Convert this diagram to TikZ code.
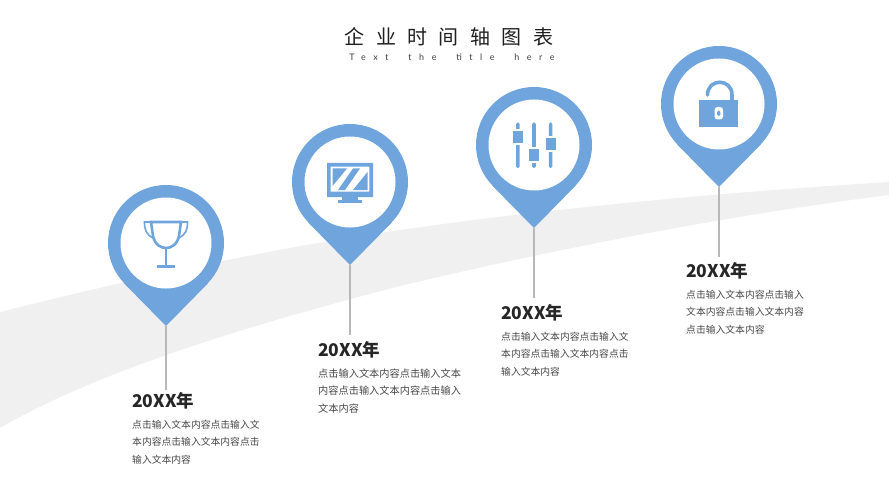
\documentclass[tikz,border=0pt]{standalone}
\usepackage{fontspec}
\setmainfont{Noto Sans CJK SC}
\newfontfamily\titlefont[LetterSpace=57]{Noto Sans CJK SC}
\newfontfamily\subfont[LetterSpace=84,WordSpace=2]{Lato}
\usepackage{tikz}
\usetikzlibrary{positioning}
\definecolor{pinblue}{HTML}{6FA5DC}
\definecolor{swoosh}{HTML}{F0F0F0}

\begin{document}
\begin{tikzpicture} [x=1pt, y=-1pt,
    pinhead/.style={circle, fill=pinblue, inner sep=0pt, minimum size=116pt},
    pinface/.style={circle, fill=white, inner sep=0pt, minimum size=91pt},
    pintip/.style={fill=pinblue},
    stem/.style={draw=black!28, line width=1.8pt},
    yearlabel/.style={inner sep=0pt, text=black!85, font=\fontsize{17.5}{20}\selectfont\bfseries},
    bodytext/.style={inner sep=0pt, align=left, text=black!72, font=\fontsize{9.8}{17.6}\selectfont},
    iconline/.style={draw=pinblue, line width=2.6pt},
    iconfill/.style={fill=pinblue}]

    \useasboundingbox (0,0) rectangle (889,500);

    % band behind the pins
    \fill [swoosh] (0,312) .. controls (120,282) and (260,250) .. (400,230)
      .. controls (560,207) and (730,192) .. (889,182)
      -- (889,195) .. controls (730,215) and (560,248) .. (400,286)
      .. controls (250,325) and (100,370) .. (0,428) -- cycle;

    % title
    \node (title) [inner sep=0pt, text=black!88, font=\titlefont\fontsize{20}{22}\selectfont] at (449,37) {企业时间轴图表};
    \node (subtitle) [inner sep=0pt, text=black!75, font=\subfont\fontsize{9}{10}\selectfont] at (452,57) {Text the title here};

    % first pin
    \node (pinA) [pinhead] at (166,243) {};
    \coordinate (tipA) at (166,326);
    \fill [pintip] (pinA.-44) -- (tipA) -- (pinA.-136) -- cycle;
    \node (faceA) [pinface] at (pinA) {};
    \coordinate (stemA) at (166,390);
    \draw [stem] (tipA) -- (stemA);
    \begin{scope}[shift={(faceA)}]
      \draw [iconline] (-15,-21) -- (15,-21) -- (13,-7) .. controls (11,2) and (5,5) .. (0,5)
        .. controls (-5,5) and (-11,2) .. (-13,-7) -- cycle;
      \draw [iconline, line width=1.6pt] (-15,-21) -- (-21.5,-21) .. controls (-21.5,-13) and (-20,-9) .. (-13,-5);
      \draw [iconline, line width=1.6pt] (15,-21) -- (21.5,-21) .. controls (21.5,-13) and (20,-9) .. (13,-5);
      \draw [iconline] (0,5) -- (0,23);
      \draw [iconline] (-9,23.5) -- (9,23.5);
    \end{scope}
    \node (yearA) [yearlabel, anchor=west] at (132,401) {20XX年};
    \node (textA) [bodytext, below right=10pt and 0pt of yearA.south west] {
      点击输入文本内容点击输入文 \\
      本内容点击输入文本内容点击 \\
      输入文本内容
    };

    % second pin
    \node (pinB) [pinhead] at (350,182) {};
    \coordinate (tipB) at (350,265);
    \fill [pintip] (pinB.-44) -- (tipB) -- (pinB.-136) -- cycle;
    \node (faceB) [pinface] at (pinB) {};
    \coordinate (stemB) at (350,335);
    \draw [stem] (tipB) -- (stemB);
    \begin{scope}[shift={(faceB)}]
      \fill [iconfill, even odd rule] (-23,-19) rectangle (23,15) (-19.3,-15.3) rectangle (19.3,9.7);
      \fill [iconfill] (-17.5,-13.5) -- (-3,-13.5) -- (-17.5,4) -- cycle;
      \fill [iconfill] (3,-13.5) -- (10,-13.5) -- (-5,8) -- (-12,8) -- cycle;
      \fill [iconfill] (17.5,-10) -- (17.5,8) -- (3,8) -- cycle;
      \fill [iconfill] (-8,15) rectangle (8,18);
      \fill [iconfill] (-12,18) rectangle (12,20.5);
    \end{scope}
    \node (yearB) [yearlabel, anchor=west] at (318,350) {20XX年};
    \node (textB) [bodytext, font=\fontsize{10.2}{17.6}\selectfont, below right=10pt and 0pt of yearB.south west] {
      点击输入文本内容点击输入文本 \\
      内容点击输入文本内容点击输入 \\
      文本内容
    };

    % third pin
    \node (pinC) [pinhead] at (534,145) {};
    \coordinate (tipC) at (534,228);
    \fill [pintip] (pinC.-44) -- (tipC) -- (pinC.-136) -- cycle;
    \node (faceC) [pinface] at (pinC) {};
    \coordinate (stemC) at (534,298);
    \draw [stem] (tipC) -- (stemC);
    \begin{scope}[shift={(faceC)}]
      \fill [iconfill, rounded corners=1.5pt] (-18,-22.5) rectangle (-14.5,23);
      \fill [iconfill, rounded corners=1.5pt] (-1.8,-22.5) rectangle (1.8,23);
      \fill [iconfill, rounded corners=1.5pt] (14.8,-22.5) rectangle (18.3,23);
      \fill [white] (-22,-16) rectangle (-11,0.5);
      \fill [white] (-6,2) rectangle (6,18);
      \fill [white] (11,-9) rectangle (23,7.5);
      \fill [iconfill] (-21.3,-13.5) rectangle (-11.3,-2.3);
      \fill [iconfill] (-5,4) rectangle (5,15.7);
      \fill [iconfill] (12,-7) rectangle (22,5);
    \end{scope}
    \node (yearC) [yearlabel, anchor=west] at (501,313) {20XX年};
    \node (textC) [bodytext, below right=10pt and 0pt of yearC.south west] {
      点击输入文本内容点击输入文 \\
      本内容点击输入文本内容点击 \\
      输入文本内容
    };

    % fourth pin
    \node (pinD) [pinhead] at (719,104) {};
    \coordinate (tipD) at (719,187);
    \fill [pintip] (pinD.-44) -- (tipD) -- (pinD.-136) -- cycle;
    \node (faceD) [pinface] at (pinD) {};
    \coordinate (stemD) at (719,257);
    \draw [stem] (tipD) -- (stemD);
    \begin{scope}[shift={(faceD)}]
      \draw [iconline, line width=3.6pt, line cap=round] (-11.5,-9) .. controls (-11.5,-26) and (13,-26) .. (13,-9) -- (13,-3);
      \fill [iconfill] (-20,-4) rectangle (19,23);
      \fill [white, rounded corners=3pt] (-4.5,3) rectangle (4,15.5);
      \fill [iconfill, rounded corners=1.5pt] (-1.8,6.5) rectangle (1.4,12);
    \end{scope}
    \node (yearD) [yearlabel, anchor=west] at (686,271) {20XX年};
    \node (textD) [bodytext, below right=10pt and 0pt of yearD.south west] {
      点击输入文本内容点击输入 \\
      文本内容点击输入文本内容 \\
      点击输入文本内容
    };
\end{tikzpicture}
\end{document}
